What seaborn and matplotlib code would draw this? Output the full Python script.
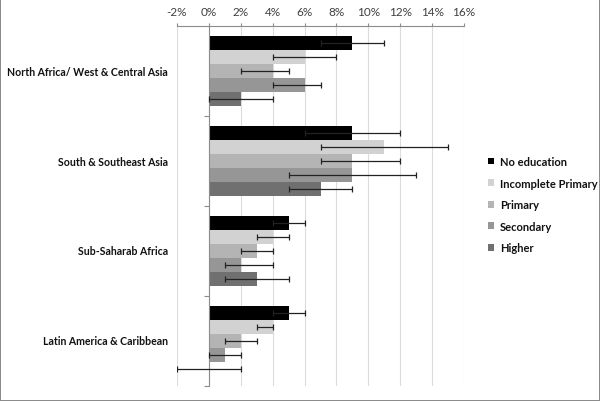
import matplotlib
matplotlib.use("Agg")
import matplotlib.pyplot as plt
import seaborn as sns
import pandas as pd
import numpy as np

regions = ["North Africa/ West & Central Asia", "South & Southeast Asia",
           "Sub-Saharab Africa", "Latin America & Caribbean"]
levels = ["No education", "Incomplete Primary", "Primary", "Secondary", "Higher"]

no_education = [9, 9, 5, 5]
no_education_lo = [7, 6, 4, 4]
no_education_hi = [11, 12, 6, 6]
incomplete_primary = [6, 11, 4, 4]
incomplete_primary_lo = [4, 7, 3, 3]
incomplete_primary_hi = [8, 15, 5, 4]
primary = [4, 9, 3, 2]
primary_lo = [2, 7, 2, 1]
primary_hi = [5, 12, 4, 3]
secondary = [6, 9, 2, 1]
secondary_lo = [4, 5, 1, 0]
secondary_hi = [7, 13, 4, 2]
higher = [2, 7, 3, 0]
higher_lo = [0, 5, 1, -2]
higher_hi = [4, 9, 5, 2]

xticks = [-2, 0, 2, 4, 6, 8, 10, 12, 14, 16]
colors = ["#000000", "#d2d2d2", "#b4b4b4", "#969696", "#707070"]

series = [no_education, incomplete_primary, primary, secondary, higher]
los = [no_education_lo, incomplete_primary_lo, primary_lo, secondary_lo, higher_lo]
his = [no_education_hi, incomplete_primary_hi, primary_hi, secondary_hi, higher_hi]

rows = []
for lev, vals in zip(levels, series):
    for reg, v in zip(regions, vals):
        rows.append({"region": reg, "level": lev, "value": v})
df = pd.DataFrame(rows)

sns.set_style("white")
plt.rcParams["font.family"] = ["Lato", "DejaVu Sans"]

fig = plt.figure(figsize=(6, 4.02), dpi=100, linewidth=1.2, edgecolor="#8c8c8c")
ax = fig.add_axes([177 / 600, 1 - 387 / 402, (464 - 177) / 600, 360 / 402])

sns.barplot(data=df, y="region", x="value", hue="level", orient="h",
            order=regions, hue_order=levels, palette=colors, saturation=1,
            width=0.77, errorbar=None, linewidth=0, ax=ax)

for cont, lo, hi in zip(ax.containers, los, his):
    ys, xs = [], []
    for p in cont.patches:
        ys.append(p.get_y() + p.get_height() / 2)
        xs.append(p.get_width())
    xs = np.array(xs)
    err = np.array([xs - np.array(lo), np.array(hi) - xs])
    ax.errorbar(xs, ys, xerr=err, fmt="none", ecolor="#222222",
                elinewidth=0.9, capsize=2.5, capthick=0.9, zorder=5)

ax.set_xlim(-2, 16)
ax.set_ylim(3.5, -0.5)
ax.set_xticks(xticks)
ax.set_xticklabels([f"{t}%" for t in xticks])
ax.xaxis.tick_top()
ax.tick_params(axis="x", top=True, direction="out", length=2.5, width=0.8,
               colors="#8c8c8c", labelcolor="#404040", labelsize=8.5, pad=4)
ax.grid(axis="x", color="#dcdcdc", linewidth=0.8)
ax.set_axisbelow(True)
for s in ["bottom", "right"]:
    ax.spines[s].set_visible(False)
ax.spines["top"].set_color("#8c8c8c")
ax.spines["top"].set_linewidth(0.8)
ax.spines["left"].set_position(("data", 0))
ax.spines["left"].set_color("#8c8c8c")
ax.spines["left"].set_linewidth(0.8)

ax.set_yticks([0.5, 1.5, 2.5, 3.5])
ax.set_yticklabels([])
ax.tick_params(axis="y", left=True, direction="out", length=3.5, width=0.8,
               colors="#8c8c8c")
for i, reg in enumerate(regions):
    ax.text(-0.032, i, reg, transform=ax.get_yaxis_transform(),
            ha="right", va="center", fontsize=7.6, fontweight="bold", color="#111111")
ax.set_xlabel("")
ax.set_ylabel("")

leg = ax.legend(loc="upper left", bbox_to_anchor=(478 / 600, 1 - 147 / 402),
                bbox_transform=fig.transFigure, frameon=False,
                handlelength=0.55, handleheight=0.55, handletextpad=0.5,
                labelspacing=0.95, prop={"size": 8, "weight": "bold"})
for t in leg.get_texts():
    t.set_color("#111111")

fig.savefig("out.png", dpi=100)
